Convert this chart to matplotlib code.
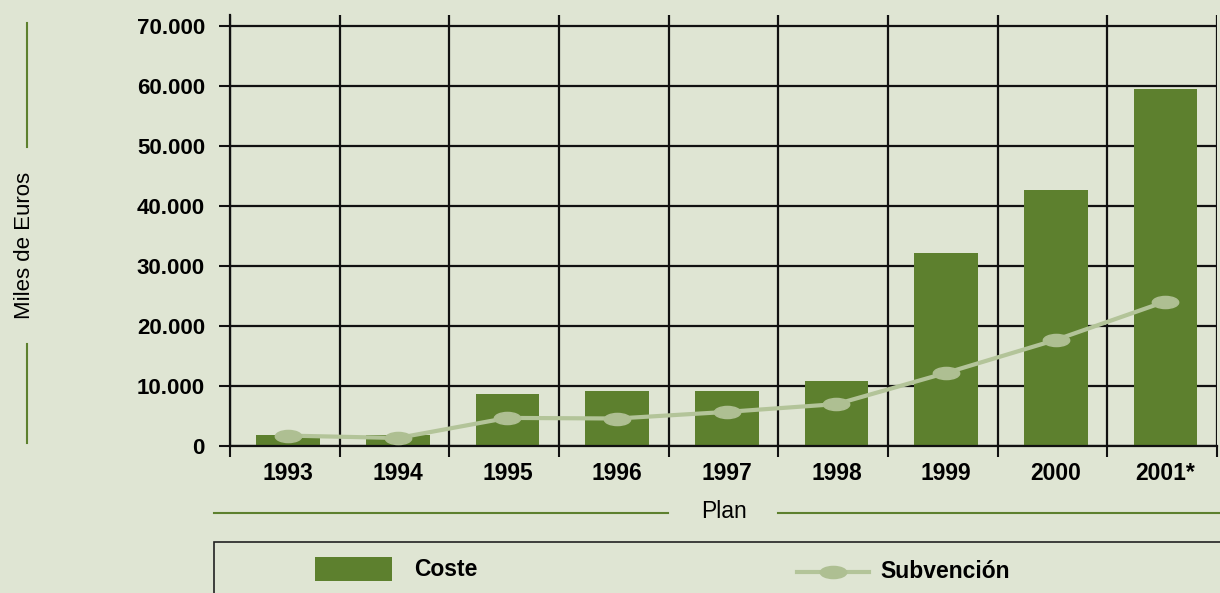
import matplotlib
matplotlib.use("Agg")
import matplotlib.pyplot as plt
from matplotlib.path import Path
from matplotlib.lines import Line2D
from matplotlib.patches import Rectangle
from matplotlib.ticker import FuncFormatter
import numpy as np

W, H = 1220, 593

years = ["1993", "1994", "1995", "1996", "1997", "1998", "1999", "2000", "2001*"]
coste = [1750, 1700, 8600, 9100, 9100, 10750, 32100, 42600, 59400]
subvencion = [1650, 1250, 4600, 4500, 5600, 6900, 12100, 17600, 24000]
y_ticks = [0, 10000, 20000, 30000, 40000, 50000, 60000, 70000]

BG = "#dfe5d3"
BAR = "#5d802e"
LINE = "#b3c499"
MARK = "#aebf92"
GRID = "#111111"

plt.rcParams['font.family'] = ['Liberation Sans', 'DejaVu Sans']

# ellipse marker
circ = Path.unit_circle()
ellipse = Path(circ.vertices * np.array([1.0, 0.46]), circ.codes)


def fx(x):
  return x / W


def fy(y):
  return 1 - y / H


fig = plt.figure(figsize=(W / 100, H / 100), dpi=100)
fig.patch.set_facecolor(BG)

ax = fig.add_axes([fx(230), fy(445.5), (1217 - 230) / W, (445.5 - 15) / H])
ax.set_facecolor(BG)

x = np.arange(len(years))
ax.bar(x, coste, width=0.58, color=BAR, zorder=2)
ax.plot(x, subvencion, color=LINE, lw=3, marker=ellipse, markersize=19,
        markerfacecolor=MARK, markeredgecolor=MARK, zorder=3)

ax.set_xlim(-0.53, len(years) - 0.53)
ax.set_ylim(0, 71750)

ax.set_yticks(y_ticks)
ax.yaxis.set_major_formatter(FuncFormatter(lambda v, p: "{:,}".format(int(v)).replace(",", ".")))
ax.set_xticks(x)
ax.set_xticklabels(years)
ax.set_xticks(np.arange(len(years) + 1) - 0.53, minor=True)

ax.tick_params(axis='y', which='major', length=8, width=1.5, color=GRID, pad=10,
               labelsize=16)
ax.tick_params(axis='x', which='major', length=0, pad=12, labelsize=16.5)
ax.tick_params(axis='x', which='minor', length=8, width=1.5, color=GRID)
for lab in ax.get_xticklabels() + ax.get_yticklabels():
  lab.set_fontweight('bold')

ax.grid(axis='y', which='major', color=GRID, lw=1.6)
ax.grid(axis='x', which='minor', color=GRID, lw=1.6)
ax.set_axisbelow(True)

for s in ['top', 'right']:
  ax.spines[s].set_visible(False)
for s in ['left', 'bottom']:
  ax.spines[s].set_color(GRID)
  ax.spines[s].set_linewidth(1.6)

# y label with green bars
fig.text(fx(25), fy(245), "Miles de Euros", rotation=90, ha='center', va='center',
         fontsize=16)
fig.add_artist(Line2D([fx(27), fx(27)], [fy(23), fy(147)], color=BAR, lw=1.5))
fig.add_artist(Line2D([fx(27), fx(27)], [fy(344), fy(443)], color=BAR, lw=1.5))

# x label with green bars
fig.text(fx(724), fy(512), "Plan", ha='center', va='center', fontsize=16.5)
fig.add_artist(Line2D([fx(214), fx(668)], [fy(512.5), fy(512.5)], color=BAR, lw=1.5))
fig.add_artist(Line2D([fx(778), fx(1220)], [fy(512.5), fy(512.5)], color=BAR, lw=1.5))

# legend box
fig.add_artist(Rectangle((fx(214), fy(600)), fx(1230) - fx(214), fy(542) - fy(600),
                         transform=fig.transFigure, facecolor='none',
                         edgecolor='#222222', lw=1.2))
fig.add_artist(Rectangle((fx(315), fy(581)), fx(392) - fx(315), fy(557) - fy(581),
                         transform=fig.transFigure, facecolor=BAR, edgecolor='none'))
fig.text(fx(414), fy(569), "Coste", ha='left', va='center', fontsize=16.5,
         fontweight='bold')
fig.add_artist(Line2D([fx(797), fx(869)], [fy(572), fy(572)], color=LINE, lw=3))
fig.add_artist(Line2D([fx(833)], [fy(572)], marker=ellipse, markersize=19,
                      markerfacecolor=MARK, markeredgecolor=MARK, lw=0))
fig.text(fx(880), fy(572), "Subvención", ha='left', va='center', fontsize=16.5,
         fontweight='bold')

plt.savefig("out.png", dpi=100, facecolor=BG)
